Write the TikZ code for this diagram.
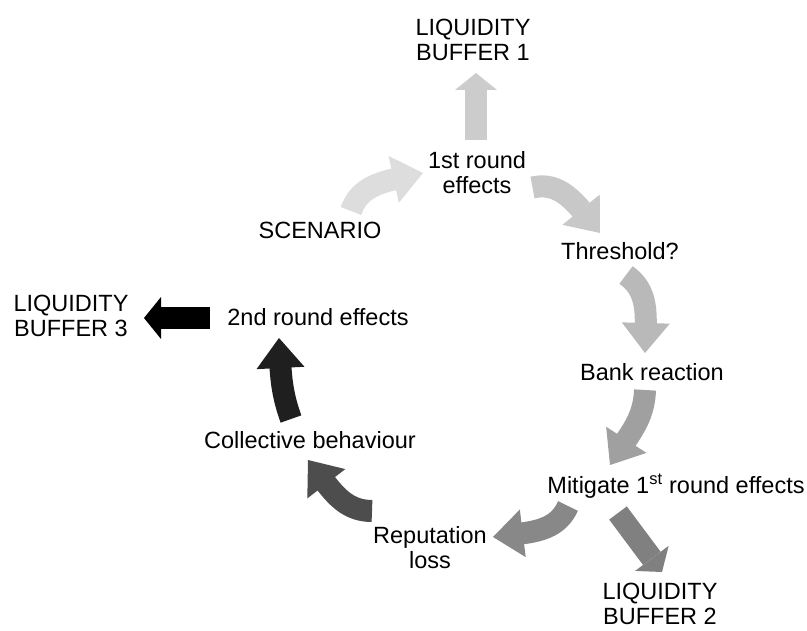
\documentclass[tikz,border=0pt]{standalone}
\usepackage{fontspec}
\setmainfont{Liberation Sans}
\usetikzlibrary{arrows.meta,bending}
\definecolor{arrA}{RGB}{221,221,221}
\definecolor{arrB}{RGB}{204,204,204}
\definecolor{arrC}{RGB}{200,200,200}
\definecolor{arrD}{RGB}{185,185,185}
\definecolor{arrE}{RGB}{160,160,160}
\definecolor{arrF}{RGB}{128,128,128}
\definecolor{arrG}{RGB}{136,136,136}
\definecolor{arrH}{RGB}{77,77,77}
\definecolor{arrI}{RGB}{31,31,31}
\begin{document}
\begin{tikzpicture}[x=1pt,y=1pt,
  lbl/.style={font=\fontsize{23.5}{25}\selectfont,align=center,inner sep=0pt},
  carrow/.style={line width=22pt,-{Triangle[length=30pt,width=48pt,line width=0pt]}},
  sarrow/.style={line width=22pt,-{Triangle[length=17pt,width=42pt,line width=0pt]}}]
\useasboundingbox (0,0) rectangle (807,-631);
\node[lbl] (buf1) at (473,-40) {LIQUIDITY\\BUFFER 1};
\node[lbl] (first) at (477,-173) {1st round\\effects};
\node[lbl] (scen) at (320,-230) {SCENARIO};
\node[lbl] (thr) at (620,-251) {Threshold?};
\node[lbl] (bank) at (652,-372) {Bank reaction};
\node[lbl] (mit) at (676,-486) {Mitigate 1\textsuperscript{st} round effects};
\node[lbl] (buf2) at (660,-604) {LIQUIDITY\\BUFFER 2};
\node[lbl] (rep) at (430,-548) {Reputation\\loss};
\node[lbl] (coll) at (310,-440) {Collective behaviour};
\node[lbl] (second) at (318,-317) {2nd round effects};
\node[lbl] (buf3) at (71,-316) {LIQUIDITY\\BUFFER 3};
% arrows round the cycle
\draw[carrow,arrA] ([shift={(31,19)}]scen.center) to[out=71,in=194] ([shift={(-54,0)}]first.center);
\draw[sarrow,arrB] ([shift={(-1,33)}]first.center) -- ([shift={(3,-33)}]buf1.center);
\draw[carrow,arrC] ([shift={(55.5,-14.5)}]first.center) to[out=13,in=130] ([shift={(-20,18)}]thr.center);
\draw[carrow,arrD] ([shift={(6,-24)}]thr.center) to[out=-35,in=90] ([shift={(-7,19)}]bank.center);
\draw[carrow,arrE] ([shift={(-7,-18)}]bank.center) to[out=-92,in=60] ([shift={(-66,21)}]mit.center);
\draw[sarrow,arrF] ([shift={(-58,-27)}]mit.center) -- ([shift={(2,32)}]buf2.center);
\draw[carrow,arrG] ([shift={(-108,-20)}]mit.center) to[out=-114,in=9] ([shift={(63,11)}]rep.center);
\draw[carrow,arrH] ([shift={(-58,37)}]rep.center) to[out=180,in=-50] ([shift={(-2,-20)}]coll.center);
\draw[carrow,arrI] ([shift={(-19,21)}]coll.center) to[out=110,in=-87] ([shift={(-39,-21)}]second.center);
\draw[sarrow,black] ([shift={(-108,-1)}]second.center) -- ([shift={(73,-2)}]buf3.center);
\end{tikzpicture}
\end{document}
